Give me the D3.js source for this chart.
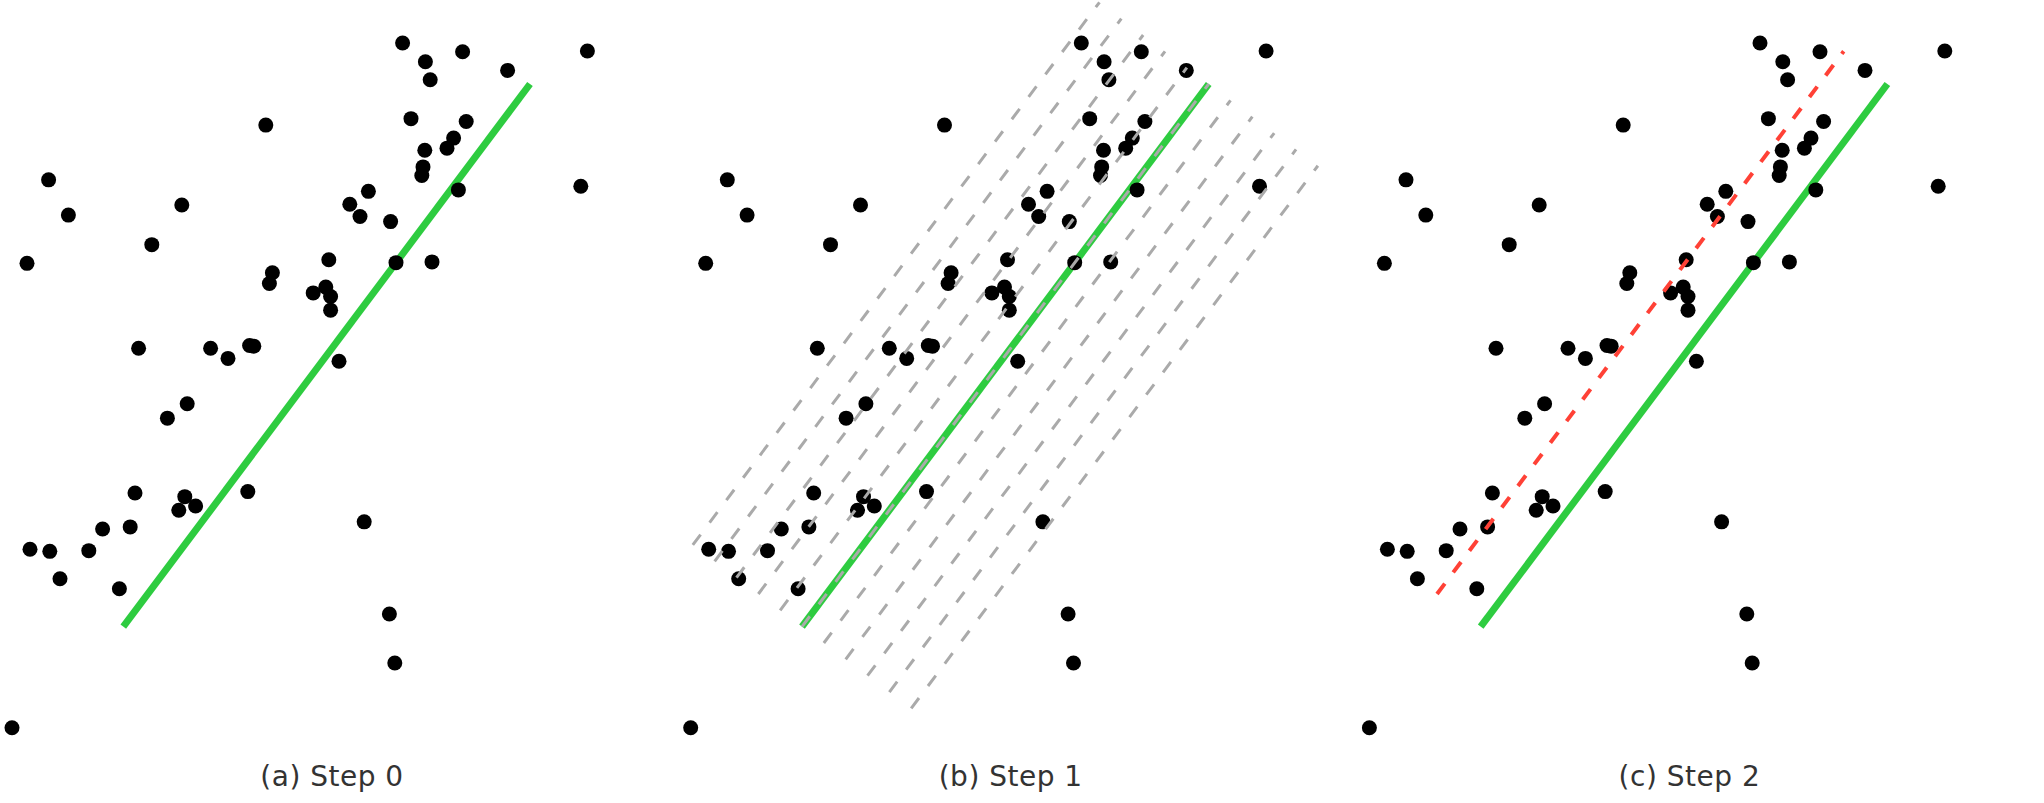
<!DOCTYPE html>
<html>
<head>
<meta charset="utf-8">
<script src="https://cdn.jsdelivr.net/npm/d3@7"></script>
<style>
  html, body { margin: 0; padding: 0; background: #fff; }
  svg { display: block; }
</style>
</head>
<body>
<svg id="chart" width="2044" height="803"></svg>
<script>
// Sample points (same set shown in every panel)
const pointX = [4.43, 0.81, 1.14, 3.03, 2.53, 0.45, 4.54, 4.49, 6.71, 7.09,
                7.71, 7.17, 8.46, 9.79, 6.85, 7.77, 7.56, 7.45, 7.08, 7.05,
                7.03, 7.64, 9.68, 6.14, 5.83, 6.00, 6.51, 5.48, 6.60, 7.20,
                2.31, 3.51, 3.80, 4.16, 4.23, 3.12, 2.79, 2.25, 3.08, 2.98,
                3.26, 4.13, 1.71, 2.17, 5.22, 5.43, 5.51, 5.51, 5.65, 6.07,
                0.50, 0.83, 1.48, 1.00, 1.99, 0.20, 6.49, 6.58];
const pointY = [8.54, 7.78, 7.29, 7.43, 6.88, 6.62, 6.49, 6.34, 9.68, 9.42,
                9.56, 9.17, 9.30, 9.57, 8.63, 8.59, 8.36, 8.22, 8.19, 7.96,
                7.84, 7.64, 7.69, 7.62, 7.44, 7.27, 7.20, 6.67, 6.63, 6.64,
                5.44, 5.44, 5.30, 5.48, 5.47, 4.67, 4.47, 3.43, 3.38, 3.19,
                3.25, 3.45, 2.93, 2.96, 6.21, 6.29, 6.16, 5.97, 5.26, 3.03,
                2.65, 2.62, 2.63, 2.24, 2.10, 0.17, 1.75, 1.07];

// Current fitted line, given by its two end points
const fitStart = [2.055, 1.574];
const fitEnd = [8.833, 9.111];

// Offset of one candidate step, and the candidate steps tried
const shiftStep = [0.364, -0.227];
const candidateShifts = [-5, -4, -3, -2, -1, 0, 1, 2, 3, 4, 5];
const chosenShift = -2;

const panelLabels = ["(a) Step 0", "(b) Step 1", "(c) Step 2"];

const points = pointX.map((x, i) => ({ x, y: pointY[i] }));

const svg = d3.select("#chart");
const panelOffset = 678.7;

const x = d3.scaleLinear().domain([0, 10]).range([0, 600]);
const y = d3.scaleLinear().domain([0, 10]).range([740, 20]);

const lineGen = d3.line().x(d => x(d[0])).y(d => y(d[1]));
const shifted = k => [
  [fitStart[0] + k * shiftStep[0], fitStart[1] + k * shiftStep[1]],
  [fitEnd[0] + k * shiftStep[0], fitEnd[1] + k * shiftStep[1]]
];

panelLabels.forEach((label, i) => {
  const g = svg.append("g").attr("transform", `translate(${i * panelOffset},0)`);

  // fitted line
  g.append("path")
    .attr("d", lineGen(shifted(0)))
    .attr("fill", "none")
    .attr("stroke", "#2ecc40")
    .attr("stroke-width", 7);

  // data points
  g.selectAll("circle")
    .data(points)
    .join("circle")
    .attr("cx", d => x(d.x))
    .attr("cy", d => y(d.y))
    .attr("r", 7.5)
    .attr("fill", "#000");

  if (i === 1) {
    // candidate shifted lines
    g.selectAll("path.candidate")
      .data(candidateShifts)
      .join("path")
      .attr("class", "candidate")
      .attr("d", k => lineGen(shifted(k)))
      .attr("fill", "none")
      .attr("stroke", "#aaaaaa")
      .attr("stroke-width", 3)
      .attr("stroke-dasharray", "13,15");
  }

  if (i === 2) {
    // selected shifted line
    g.append("path")
      .attr("d", lineGen(shifted(chosenShift)))
      .attr("fill", "none")
      .attr("stroke", "#ff4136")
      .attr("stroke-width", 4)
      .attr("stroke-dasharray", "13,14");
  }

  g.append("text")
    .attr("x", 332)
    .attr("y", 786)
    .attr("text-anchor", "middle")
    .attr("font-family", "DejaVu Sans, sans-serif")
    .attr("font-size", 28)
    .attr("letter-spacing", 0.5)
    .attr("fill", "#333")
    .text(label);
});
</script>
</body>
</html>
